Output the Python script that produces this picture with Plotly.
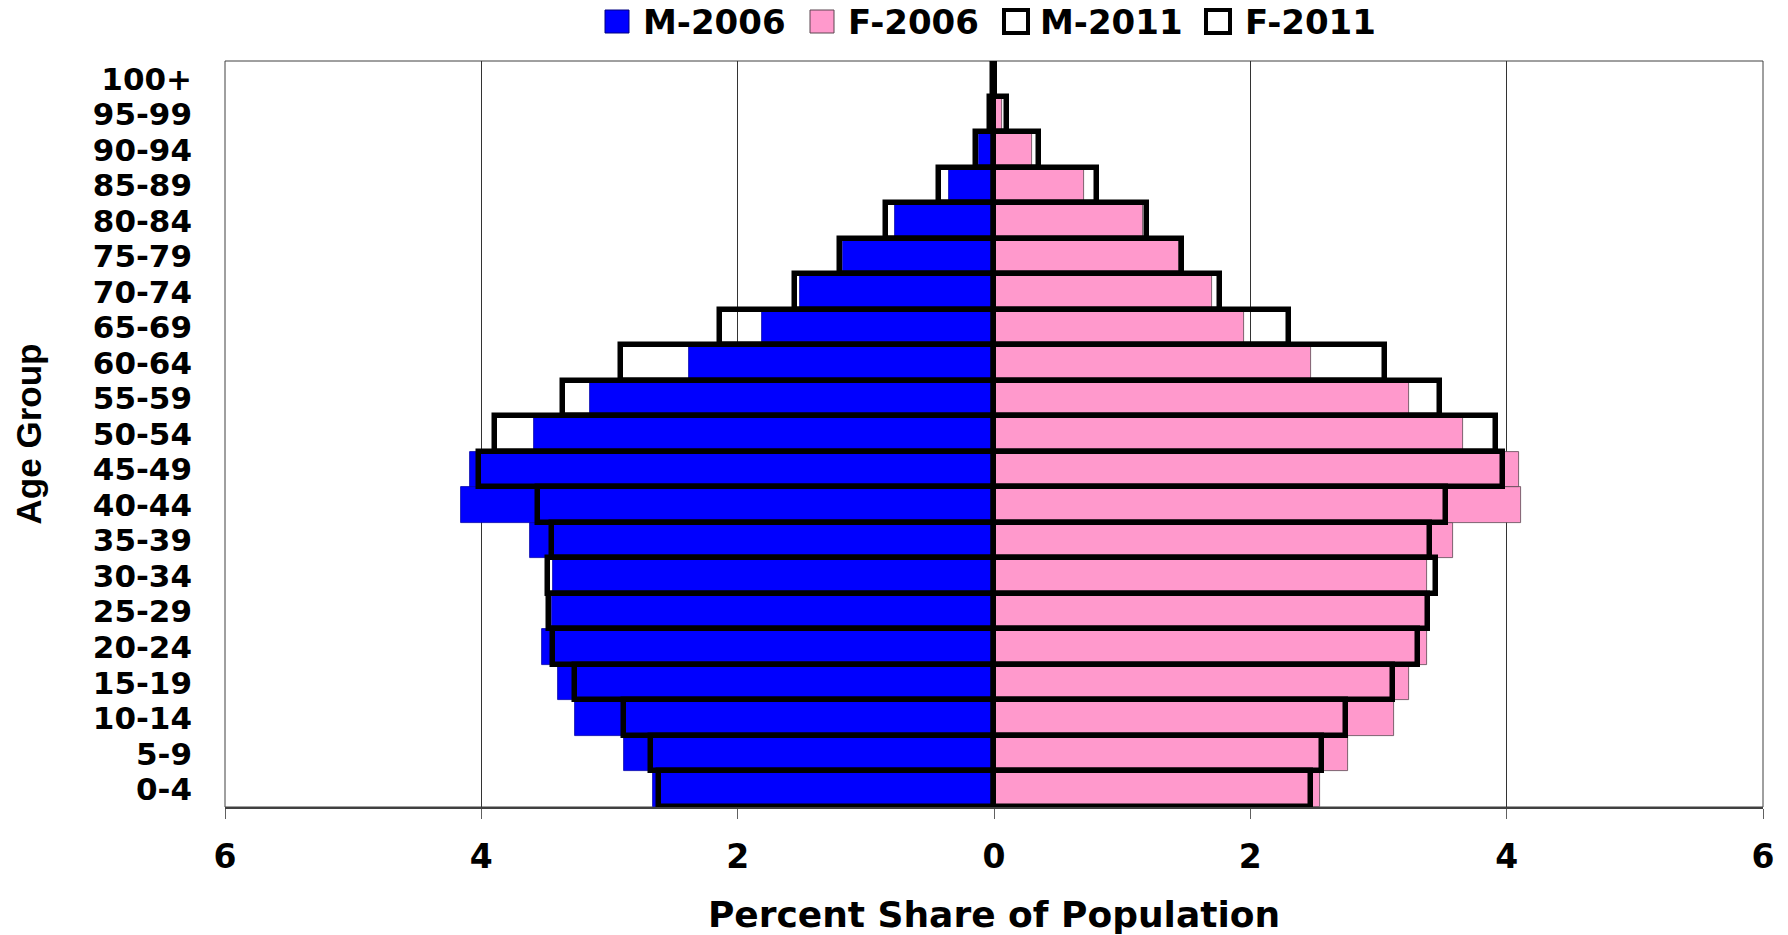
import plotly.graph_objects as go

# ---------------- data ----------------
ages = ["0-4", "5-9", "10-14", "15-19", "20-24", "25-29", "30-34", "35-39",
        "40-44", "45-49", "50-54", "55-59", "60-64", "65-69", "70-74", "75-79",
        "80-84", "85-89", "90-94", "95-99", "100+"]

m_2006 = [2.66, 2.89, 3.27, 3.40, 3.53, 3.45, 3.44, 3.62, 4.16, 4.09, 3.59,
          3.15, 2.38, 1.81, 1.51, 1.18, 0.77, 0.35, 0.12, 0.04, 0.01]
f_2006 = [2.54, 2.76, 3.12, 3.24, 3.38, 3.37, 3.38, 3.58, 4.11, 4.10, 3.66,
          3.24, 2.47, 1.95, 1.70, 1.44, 1.16, 0.70, 0.30, 0.06, 0.01]
m_2011 = [2.61, 2.68, 2.89, 3.27, 3.44, 3.47, 3.48, 3.45, 3.56, 4.02, 3.89,
          3.36, 2.91, 2.14, 1.55, 1.20, 0.84, 0.43, 0.14, 0.03, 0.01]
f_2011 = [2.47, 2.56, 2.75, 3.11, 3.31, 3.39, 3.45, 3.40, 3.53, 3.97, 3.92,
          3.48, 3.05, 2.30, 1.76, 1.47, 1.19, 0.80, 0.35, 0.10, 0.01]

series_names = ["M-2006", "F-2006", "M-2011", "F-2011"]

x_tickvals = [-6, -4, -2, 0, 2, 4, 6]
x_ticktext = ["6", "4", "2", "0", "2", "4", "6"]

x_title = "Percent Share of Population"
y_title = "Age Group"

# ---------------- styles ----------------
BLUE = "#0000FF"
PINK = "#FF99CC"
W, H = 1788, 935
ML, MR, MT, MB = 225, 25, 61, 128
PW, PH = W - ML - MR, H - MT - MB

fig = go.Figure()

fig.add_trace(go.Bar(y=ages, x=[-v for v in m_2006], orientation="h", name=series_names[0],
                     marker=dict(color=BLUE, line=dict(color="#0000AA", width=0.8)),
                     customdata=m_2006, hovertemplate="%{y}: %{customdata}%<extra>M-2006</extra>"))
fig.add_trace(go.Bar(y=ages, x=f_2006, orientation="h", name=series_names[1],
                     marker=dict(color=PINK, line=dict(color="#5a4650", width=0.8))))
fig.add_trace(go.Bar(y=ages, x=[-v for v in m_2011], orientation="h", name=series_names[2],
                     marker=dict(color="rgba(0,0,0,0)", line=dict(color="#000000", width=5.5)),
                     customdata=m_2011, hovertemplate="%{y}: %{customdata}%<extra>M-2011</extra>"))
fig.add_trace(go.Bar(y=ages, x=f_2011, orientation="h", name=series_names[3],
                     marker=dict(color="rgba(0,0,0,0)", line=dict(color="#000000", width=5.5))))


def px_x(p):
    return (p - ML) / PW


def px_y(p):
    return (H - MB - p) / PH


shapes = [dict(type="rect", xref="paper", yref="paper", x0=0, x1=1, y0=0, y1=1,
               line=dict(color="#404040", width=1), layer="below")]
annotations = []

# custom legend (large square symbols like the original)
leg_sq_x = [605, 810, 1004, 1206]
leg_tx_x = [641, 846, 1038, 1243]
leg_fill = [BLUE, PINK, "#FFFFFF", "#FFFFFF"]
leg_line = [("#000080", 1), ("#5a4650", 1), ("#000000", 4), ("#000000", 4)]
for i, name in enumerate(series_names):
    shapes.append(dict(type="rect", xref="paper", yref="paper",
                       x0=px_x(leg_sq_x[i]), x1=px_x(leg_sq_x[i] + 24),
                       y0=px_y(33), y1=px_y(10),
                       fillcolor=leg_fill[i],
                       line=dict(color=leg_line[i][0], width=leg_line[i][1])))
    annotations.append(dict(xref="paper", yref="paper", x=px_x(leg_tx_x[i]), y=px_y(22),
                            xanchor="left", yanchor="middle", showarrow=False, text=name,
                            font=dict(family="DejaVu Sans", size=34, color="black", weight="bold")))

fig.update_layout(
    width=W, height=H,
    margin=dict(l=ML, r=MR, t=MT, b=MB, pad=0),
    paper_bgcolor="white", plot_bgcolor="white",
    barmode="overlay", bargap=0,
    showlegend=False,
    shapes=shapes, annotations=annotations,
    xaxis=dict(range=[-6, 6], tickvals=x_tickvals, ticktext=x_ticktext, automargin=False,
               showgrid=True, gridcolor="#333333", gridwidth=1, zeroline=False,
               showline=True, linecolor="#404040", linewidth=2,
               ticks="outside", ticklen=10, tickcolor="#606060", tickwidth=1,
               ticklabelstandoff=9,
               tickfont=dict(family="DejaVu Sans", size=33, color="black", weight="bold"),
               title=dict(text=x_title, standoff=37,
                          font=dict(family="DejaVu Sans", size=36, color="black", weight="bold"))),
    yaxis=dict(type="category", categoryorder="array", categoryarray=ages, automargin=False,
               tickmode="array", tickvals=ages, ticktext=ages,
               showgrid=False, zeroline=False, showline=False, ticks="",
               ticklabelstandoff=32,
               tickfont=dict(family="DejaVu Sans", size=31, color="black", weight="bold"),
               title=dict(text=y_title, standoff=40,
                          font=dict(family="Liberation Sans", size=35, color="black", weight="bold"))),
)

fig.write_html("out.html", config={"displayModeBar": False},
               post_script="document.body.style.margin='0';")
